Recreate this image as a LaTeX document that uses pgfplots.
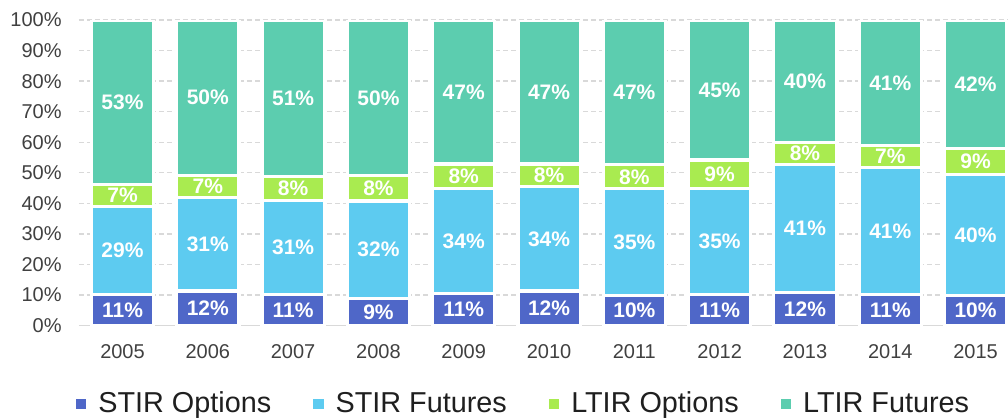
\documentclass[border=0pt]{standalone}
\usepackage{fontspec}
\setmainfont{Liberation Sans}
\usepackage{pgfplots}
\usepackage{pgfplotstable}
\pgfplotsset{compat=1.18}
\definecolor{stiro}{HTML}{4F67C8}
\definecolor{stirf}{HTML}{5DCBF0}
\definecolor{ltiro}{HTML}{A9EB50}
\definecolor{ltirf}{HTML}{5CCDAF}
\definecolor{gridgray}{HTML}{D9D9D9}
\definecolor{ticktext}{HTML}{404040}

% segment heights as drawn, and the printed labels
\pgfplotstableread{
x  so   sol sf   sfl lo  lol lf   lfl
0  10.2 11  28.7 29  7.4 7   53.7 53
1  11.3 12  30.7 31  7.2 7   50.8 50
2  10.2 11  30.7 31  7.8 8   51.3 51
3  8.9  9   31.9 32  8.3 8   50.9 50
4  10.6 11  34.3 34  8.0 8   47.1 47
5  11.3 12  34.1 34  7.5 8   47.1 47
6  9.8  10  35.0 35  7.8 8   47.4 47
7  10.1 11  34.8 35  9.3 9   45.8 45
8  10.9 12  41.7 41  7.4 8   40.0 40
9  10.1 11  41.6 41  7.2 7   41.1 41
10 9.8  10  39.7 40  8.4 9   42.1 42
}\shares

\begin{document}
\begin{tikzpicture}
\useasboundingbox (-39.5pt,-46.7pt) rectangle (464.5pt,162.8pt);
\begin{axis}[
  at={(0pt,0pt)}, anchor=south west,
  scale only axis,
  width=464.5pt, height=152.8pt,
  ybar stacked,
  bar width=0.73,
  xmin=-0.51, xmax=10.38,
  ymin=0, ymax=100,
  xtick=data,
  xticklabels={2005,2006,2007,2008,2009,2010,2011,2012,2013,2014,2015},
  ytick={0,10,...,100},
  yticklabel={\pgfmathprintnumber{\tick}\%},
  /pgf/number format/assume math mode=true,
  major tick length=0pt,
  axis line style={draw=none},
  ymajorgrids,
  major grid style={draw=gridgray, line width=0.65pt, dash pattern=on 2.5pt off 1.5pt},
  tick label style={font=\fontsize{10}{12}\selectfont, text=ticktext},
  yticklabel style={inner sep=0pt, anchor=east, xshift=-8.5pt},
  xticklabel style={inner sep=0pt, anchor=center, yshift=-13.2pt},
  point meta=explicit symbolic,
  nodes near coords={\pgfplotspointmeta\%},
  every node near coord/.append style={font=\fontsize{10.5}{12}\selectfont\bfseries,
    text=white, anchor=center, inner sep=0pt},
  legend columns=4,
  legend style={at={(0.4796,-0.2565)}, anchor=center, draw=none, fill=none,
    font=\fontsize{14.4}{17}\selectfont, text=black!88,
    /tikz/every odd column/.append style={column sep=4pt},
    /tikz/every even column/.append style={column sep=19pt}},
  legend image code/.code={\fill[#1, draw=none] (0pt,-2.6pt) rectangle (5.2pt,2.6pt);},
]
\addplot[fill=stiro, draw=white, line width=1.6pt]
  table[x=x, y=so, meta=sol] {\shares};
\addlegendentry{STIR Options}
\addplot[fill=stirf, draw=white, line width=1.6pt]
  table[x=x, y=sf, meta=sfl] {\shares};
\addlegendentry{STIR Futures}
\addplot[fill=ltiro, draw=white, line width=1.6pt]
  table[x=x, y=lo, meta=lol] {\shares};
\addlegendentry{LTIR Options}
\addplot[fill=ltirf, draw=white, line width=1.6pt]
  table[x=x, y=lf, meta=lfl] {\shares};
\addlegendentry{LTIR Futures}
\draw[gridgray, line width=0.8pt] (axis cs:-0.51,0) -- (axis cs:10.38,0);
\end{axis}
\end{tikzpicture}
\end{document}
